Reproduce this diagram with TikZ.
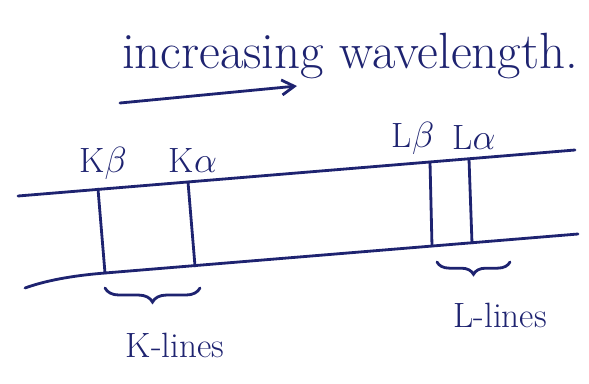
\documentclass[tikz,border=0pt]{standalone}
\usepackage{tikz}
\usetikzlibrary{arrows.meta,decorations.pathreplacing}
\definecolor{ink}{HTML}{1E2370}
\tikzset{pen/.style={draw=ink,line width=1.6pt,line cap=round}, lab/.style={text=ink,font=\fontsize{20}{24}\selectfont,inner sep=1pt}, curly/.style={pen,decorate,decoration={brace,mirror,amplitude=#1}}}

\begin{document}
\begin{tikzpicture}[x=0.02cm,y=-0.02cm]
\useasboundingbox (0,0) rectangle (589,383);
\node[lab,font=\fontsize{29}{34}\selectfont] (title) at (350,56) {increasing wavelength.};
\coordinate (a0) at (120,103);
\coordinate (a1) at (297,86);
\draw[pen,-{Straight Barb[length=2.5mm,width=3mm]}] (a0)--(a1);
% the two borders of the band
\coordinate (t0) at (18,196);
\coordinate (t1) at (575,150);
\coordinate (b0) at (25,288);
\coordinate (b1) at (105,273);
\coordinate (b2) at (578,234);
\draw[pen] (t0)--(t1);
\draw[pen] (b0) .. controls (50,279) and (80,275) .. (b1)--(b2);
% K lines
\coordinate (kbtop) at (98,189);
\coordinate (kbbot) at (105,273);
\coordinate (katop) at (188,182);
\coordinate (kabot) at (195,266);
\draw[pen] (kbtop)--(kbbot);
\draw[pen] (katop)--(kabot);
\node[lab] (kb) at (103,163) {K$\beta$};
\node[lab] (ka) at (193,160) {K$\alpha$};
% L lines
\coordinate (lbtop) at (430,162);
\coordinate (lbbot) at (432,246);
\coordinate (latop) at (469,159);
\coordinate (labot) at (472,243);
\draw[pen] (lbtop)--(lbbot);
\draw[pen] (latop)--(labot);
\node[lab] (lb) at (413,138) {L$\beta$};
\node[lab] (la) at (474,137) {L$\alpha$};
% groups
\coordinate (k0) at (105,288);
\coordinate (k1) at (200,288);
\draw[curly=8pt] (k0)--(k1);
\node[lab] (klines) at (175,345) {K-lines};
\coordinate (l0) at (437,262);
\coordinate (l1) at (510,262);
\draw[curly=7pt] (l0)--(l1);
\node[lab] (llines) at (500,315) {L-lines};
\end{tikzpicture}
\end{document}
